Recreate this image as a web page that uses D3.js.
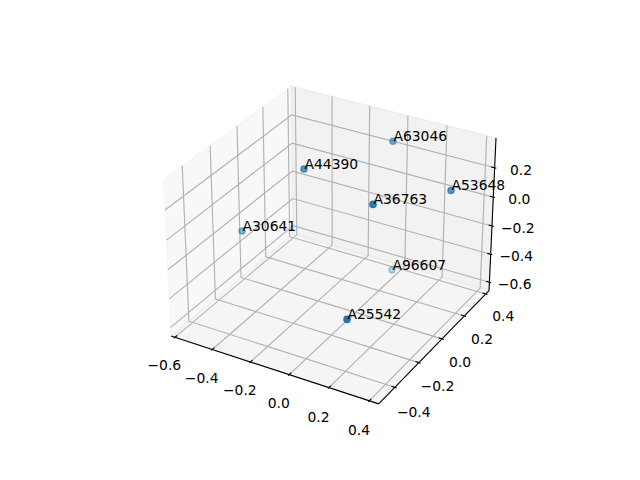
<!DOCTYPE html>
<html>
<head>
<meta charset="utf-8">
<style>
html,body{margin:0;padding:0;background:#fff}
svg{display:block}
text{font-family:"DejaVu Sans",sans-serif;font-size:13.89px;fill:#000}
</style>
<script src="https://cdn.jsdelivr.net/npm/d3@7/dist/d3.min.js"></script>
</head>
<body>
<svg id="chart" width="640" height="480"></svg>
<script>
// Data
const labels = ["A25542","A96607","A30641","A63046","A53648","A44390","A36763"];
const xValues = [0.2453,0.0151,-0.512,0.016,0.3717,-0.2039,0.1923];
const yValues = [-0.4609,0.288,-0.1335,0.2759,0.1722,-0.0981,-0.1769];
const zValues = [-0.2331,-0.5708,-0.1841,0.3346,0.201,0.3239,0.2888];
const xTicks = [-0.6,-0.4,-0.2,0,0.2,0.4];
const yTicks = [-0.4,-0.2,0,0.2,0.4];
const zTicks = [-0.6,-0.4,-0.2,0,0.2];
const xLim = [-0.6206,0.446];
const yLim = [-0.53,0.43];
const zLim = [-0.661,0.399];

// Box scales (matplotlib's 4:4:3 box aspect, elev 30, azim -60, dist 10)
const boxNorm = 1.8294640721620434*25/24/Math.sqrt(41);
const ax = 4*boxNorm, ay = 4*boxNorm, az = 3*boxNorm;
const sxBox = d3.scaleLinear().domain(xLim).range([0,ax]);
const syBox = d3.scaleLinear().domain(yLim).range([0,ay]);
const szBox = d3.scaleLinear().domain(zLim).range([0,az]);
const screenX = d3.scaleLinear().domain([-0.095,0.09]).range([143.2,512.8]);
const screenY = d3.scaleLinear().domain([-0.095,0.09]).range([427.2,57.6]);

const elev = 30*Math.PI/180, azim = -60*Math.PI/180, dist = 10;
const w = [Math.cos(elev)*Math.cos(azim),Math.cos(elev)*Math.sin(azim),Math.sin(elev)];
const cross=(a,b)=>[a[1]*b[2]-a[2]*b[1],a[2]*b[0]-a[0]*b[2],a[0]*b[1]-a[1]*b[0]];
const dot=(a,b)=>a[0]*b[0]+a[1]*b[1]+a[2]*b[2];
let u = cross([0,0,1],w); const un=Math.hypot(...u); u=u.map(d=>d/un);
const v = cross(w,u);
function project(x,y,z){
  const p=[sxBox(x)-ax/2,syBox(y)-ay/2,szBox(z)-az/2];
  const depth=dot(w,p), f=dist-depth;
  return {x:screenX(dot(u,p)/f),y:screenY(dot(v,p)/f),depth};
}
const P=(x,y,z)=>{const q=project(x,y,z);return [q.x,q.y];};

const svg=d3.select("#chart");
const line=d3.line();
const [x0,x1]=xLim,[y0,y1]=yLim,[z0,z1]=zLim;

// Panes
const panes=[
 {c:0.95,pts:[P(x0,y0,z0),P(x0,y1,z0),P(x0,y1,z1),P(x0,y0,z1)]},
 {c:0.90,pts:[P(x0,y1,z0),P(x1,y1,z0),P(x1,y1,z1),P(x0,y1,z1)]},
 {c:0.925,pts:[P(x0,y0,z0),P(x1,y0,z0),P(x1,y1,z0),P(x0,y1,z0)]}
];
svg.append("g").selectAll("path").data(panes).join("path")
 .attr("d",d=>line(d.pts)+"Z")
 .attr("fill",d=>d3.rgb(d.c*255,d.c*255,d.c*255))
 .attr("fill-opacity",0.5)
 .attr("stroke",d=>d3.rgb(d.c*255,d.c*255,d.c*255))
 .attr("stroke-opacity",0.5)
 .attr("stroke-width",1.39);

// Axis lines
const axisLines=[[P(x0,y0,z0),P(x1,y0,z0)],[P(x1,y0,z0),P(x1,y1,z0)],[P(x1,y1,z0),P(x1,y1,z1)]];
svg.append("g").selectAll("path").data(axisLines).join("path")
 .attr("d",d=>line(d)).attr("fill","none").attr("stroke","#000").attr("stroke-width",1.11);

// Grid
const grid=[
 ...xTicks.map(t=>[P(t,y0,z0),P(t,y1,z0),P(t,y1,z1)]),
 ...yTicks.map(t=>[P(x1,t,z0),P(x0,t,z0),P(x0,t,z1)]),
 ...zTicks.map(t=>[P(x0,y0,t),P(x0,y1,t),P(x1,y1,t)])
];
svg.append("g").selectAll("path").data(grid).join("path")
 .attr("d",d=>line(d)).attr("fill","none")
 .attr("stroke","#b0b0b0").attr("stroke-width",1.11).attr("stroke-linejoin","miter");

// Ticks and tick labels
const dX=(x1-x0)*0.08,dY=(y1-y0)*0.08,dZ=(z1-z0)*0.08;
const kIn=0.2,kOut=0.1,kLabel=1.3;
const tickMarks=[
 ...xTicks.map(t=>[P(t,y0-kOut*dY,z0),P(t,y0+kIn*dY,z0)]),
 ...yTicks.map(t=>[P(x1+kOut*dX,t,z0),P(x1-kIn*dX,t,z0)]),
 ...zTicks.map(t=>[P(x1+kOut*dX,y1,t),P(x1-kIn*dX,y1,t)])
];
svg.append("g").selectAll("path").data(tickMarks).join("path")
 .attr("d",d=>line(d)).attr("fill","none").attr("stroke","#000").attr("stroke-width",1.11);

const fmt=t=>(t<0?"\u2212":"")+Math.abs(t).toFixed(1);
const tickLabels=[
 ...xTicks.map(t=>({t,p:P(t,y0-kLabel*dY,z0-kLabel*dZ),dx:2.5,dy:0.5})),
 ...yTicks.map(t=>({t,p:P(x1+kLabel*dX,t,z0-kLabel*dZ),dx:-3.4,dy:1})),
 ...zTicks.map(t=>({t,p:P(x1+kLabel*dX,y1+kLabel*dY,t),dx:-6.5,dy:6.5}))
];
svg.append("g").selectAll("text").data(tickLabels).join("text")
 .attr("x",d=>d.p[0]+d.dx).attr("y",d=>d.p[1]+d.dy+5)
 .attr("text-anchor","middle").text(d=>fmt(d.t));

// Points with depth shading
const pts=labels.map((name,i)=>({name,...project(xValues[i],yValues[i],zValues[i])}));
const depthExtent=d3.extent(pts,d=>d.depth);
const alpha=d3.scaleLinear().domain(depthExtent).range([0.3,1]);
const sorted=pts.slice().sort((a,b)=>d3.ascending(a.depth,b.depth));
svg.append("g").selectAll("circle").data(sorted).join("circle")
 .attr("cx",d=>d.x).attr("cy",d=>d.y+0.4).attr("r",3.1)
 .attr("fill","#1f77b4").attr("stroke","#1f77b4").attr("stroke-width",1.39)
 .attr("fill-opacity",d=>alpha(d.depth)).attr("stroke-opacity",d=>alpha(d.depth));
svg.append("g").selectAll("text").data(pts).join("text")
 .attr("x",d=>d.x+0.5).attr("y",d=>d.y+0.3).text(d=>d.name);
</script>
</body>
</html>
